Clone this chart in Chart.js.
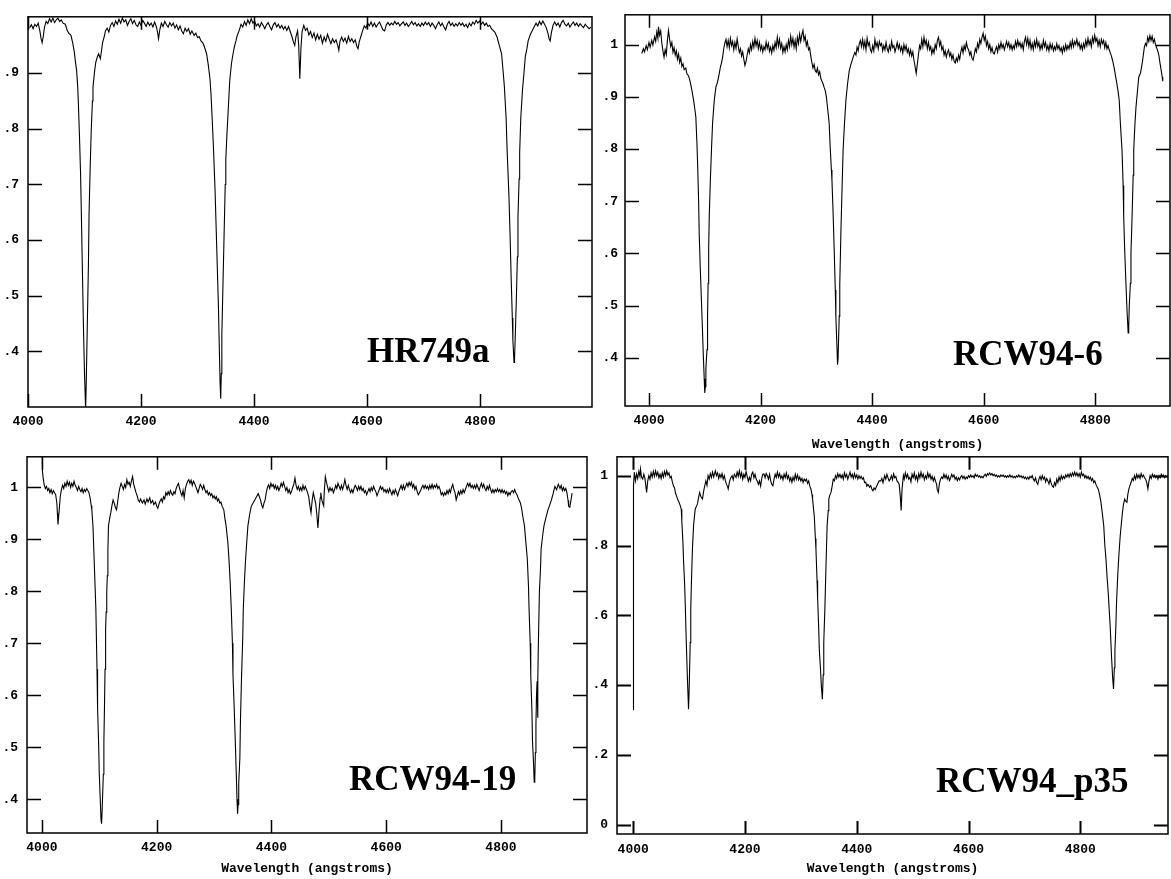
<!DOCTYPE html>
<html>
<head>
<meta charset="utf-8">
<script src="https://cdn.jsdelivr.net/npm/chart.js@4.4.1/dist/chart.umd.min.js"></script>
<style>
  body { margin: 0; background: #fff; }
  #wrap { position: relative; width: 1171px; height: 879px; overflow: hidden; background: #fff; }
  canvas { position: absolute; }
</style>
</head>
<body>
<div id="wrap">
  <canvas id="p1" width="597" height="440" style="left:0;top:0"></canvas>
  <canvas id="p2" width="574" height="455" style="left:597px;top:0"></canvas>
  <canvas id="p3" width="597" height="439" style="left:0;top:440px"></canvas>
  <canvas id="p4" width="581" height="439" style="left:590px;top:440px"></canvas>
</div>
<script>
// ---------- tick values ----------
const waveTicks = [4000, 4200, 4400, 4600, 4800];
const hrYTicks = [0.4, 0.5, 0.6, 0.7, 0.8, 0.9];
const rcw6YTicks = [0.4, 0.5, 0.6, 0.7, 0.8, 0.9, 1];
const rcw19YTicks = [0.4, 0.5, 0.6, 0.7, 0.8, 0.9, 1];
const p35YTicks = [0, 0.2, 0.4, 0.6, 0.8, 1];

const names = ["HR749a", "RCW94-6", "RCW94-19", "RCW94_p35"];
const xTitle = "Wavelength (angstroms)";

// ---------- spectra: [wavelength, normalised flux] ----------
const hr749a = [[4003,.982],[4006,.987],[4009,.980],[4012,.988],[4015,.984],[4018,.990],[4021,.976],[4023,.963],[4025,.955],[4027,.966],[4029,.982],[4032,.993],[4035,.989],[4038,.998],[4041,.992],[4044,.999],[4047,.991],[4050,.996],[4053,.999],[4056,.993],[4059,.996],[4062,.990],[4066,.988],[4069,.978],[4072,.972],[4076,.968],[4079,.955],[4082,.938],[4084,.920],[4086,.905],[4088,.875],[4089,.850],[4091,.790],[4093,.720],[4094,.670],[4096,.560],[4098,.450],[4100,.360],[4102,.295],[4103,.340],[4105,.450],[4107,.560],[4108,.645],[4110,.730],[4112,.800],[4114,.850],[4115,.875],[4118,.905],[4120,.920],[4123,.930],[4125,.935],[4128,.926],[4130,.940],[4132,.955],[4135,.966],[4137,.976],[4140,.981],[4143,.974],[4146,.986],[4149,.991],[4152,.984],[4155,.994],[4158,.988],[4161,.997],[4164,.990],[4167,.999],[4170,.992],[4173,.996],[4176,.986],[4179,.993],[4182,.998],[4185,.989],[4188,.995],[4191,.987],[4194,.984],[4197,.992],[4200,.986],[4203,.995],[4206,.990],[4209,.984],[4212,.992],[4215,.986],[4218,.990],[4221,.983],[4224,.992],[4227,.984],[4229,.975],[4231,.962],[4233,.977],[4236,.990],[4239,.984],[4242,.993],[4245,.987],[4248,.983],[4251,.991],[4254,.985],[4257,.990],[4260,.981],[4263,.987],[4266,.978],[4269,.985],[4272,.976],[4275,.971],[4278,.981],[4281,.975],[4284,.980],[4287,.970],[4290,.976],[4294,.968],[4297,.972],[4300,.964],[4303,.966],[4306,.958],[4309,.955],[4312,.948],[4316,.935],[4319,.915],[4322,.890],[4324,.860],[4326,.816],[4328,.770],[4331,.690],[4333,.620],[4335,.550],[4337,.480],[4338,.430],[4340,.340],[4341,.315],[4342,.360],[4343,.430],[4345,.520],[4347,.610],[4349,.700],[4350,.745],[4352,.790],[4354,.828],[4357,.887],[4360,.917],[4362,.930],[4365,.947],[4368,.958],[4370,.967],[4374,.978],[4377,.988],[4380,.983],[4383,.993],[4386,.986],[4389,.996],[4392,.989],[4395,.998],[4398,.990],[4401,.994],[4404,.985],[4407,.989],[4410,.983],[4413,.991],[4416,.986],[4419,.980],[4422,.987],[4425,.991],[4428,.984],[4431,.978],[4434,.987],[4437,.991],[4440,.983],[4443,.988],[4446,.981],[4449,.986],[4452,.979],[4455,.984],[4458,.977],[4461,.984],[4464,.975],[4467,.966],[4470,.955],[4472,.950],[4474,.965],[4477,.976],[4479,.950],[4481,.890],[4483,.945],[4485,.975],[4488,.986],[4491,.977],[4494,.981],[4497,.969],[4500,.975],[4503,.964],[4506,.972],[4509,.960],[4512,.970],[4515,.961],[4518,.968],[4521,.954],[4524,.965],[4527,.957],[4530,.970],[4533,.961],[4536,.953],[4539,.962],[4542,.955],[4545,.960],[4548,.950],[4550,.941],[4552,.957],[4555,.965],[4558,.957],[4561,.963],[4564,.954],[4567,.966],[4570,.957],[4573,.962],[4576,.955],[4579,.960],[4582,.948],[4584,.944],[4586,.956],[4589,.966],[4592,.976],[4595,.985],[4598,.981],[4601,.990],[4604,.985],[4607,.992],[4610,.984],[4613,.990],[4616,.983],[4619,.988],[4622,.992],[4625,.985],[4628,.978],[4631,.976],[4634,.987],[4637,.991],[4640,.986],[4643,.990],[4646,.987],[4649,.993],[4652,.988],[4655,.991],[4658,.985],[4661,.989],[4664,.992],[4667,.986],[4670,.990],[4673,.984],[4676,.988],[4679,.993],[4682,.987],[4685,.991],[4688,.985],[4691,.989],[4694,.984],[4697,.990],[4700,.986],[4703,.992],[4706,.987],[4709,.991],[4712,.984],[4715,.990],[4718,.986],[4721,.980],[4724,.987],[4727,.992],[4730,.985],[4733,.990],[4736,.983],[4739,.978],[4742,.988],[4745,.993],[4748,.986],[4751,.990],[4754,.984],[4757,.989],[4760,.985],[4763,.991],[4766,.986],[4769,.990],[4772,.984],[4775,.988],[4778,.982],[4781,.990],[4784,.985],[4787,.992],[4790,.988],[4793,.995],[4796,.990],[4799,.994],[4802,.988],[4805,.992],[4808,.986],[4811,.990],[4814,.984],[4817,.986],[4820,.980],[4823,.977],[4826,.974],[4830,.965],[4834,.950],[4838,.935],[4841,.900],[4843,.875],[4846,.820],[4848,.757],[4851,.680],[4853,.610],[4855,.530],[4857,.460],[4858,.420],[4860,.380],[4861,.390],[4862,.420],[4864,.490],[4866,.570],[4867,.640],[4869,.710],[4870,.757],[4872,.820],[4875,.870],[4878,.905],[4880,.930],[4883,.945],[4885,.958],[4889,.970],[4892,.976],[4896,.984],[4899,.990],[4902,.985],[4905,.993],[4908,.987],[4911,.994],[4914,.988],[4917,.982],[4920,.972],[4922,.962],[4924,.958],[4926,.972],[4929,.986],[4932,.992],[4935,.986],[4938,.990],[4941,.983],[4944,.991],[4947,.995],[4950,.988],[4953,.985],[4956,.990],[4959,.983],[4962,.988],[4965,.992],[4968,.986],[4971,.990],[4974,.984],[4977,.989],[4980,.985],[4983,.982],[4986,.988],[4989,.984],[4993,.980],[4996,.983]];

const rcw94_6 = [[3987,.983],[3990,.992],[3992,.986],[3995,.998],[3997,.990],[4000,1.004],[4002,.995],[4005,1.008],[4007,.999],[4010,1.015],[4012,1.006],[4014,1.024],[4016,1.012],[4017,1.034],[4019,1.018],[4021,1.026],[4023,1.003],[4025,.988],[4027,.976],[4029,.990],[4031,.981],[4033,1.008],[4035,1.027],[4037,1.010],[4039,.996],[4041,1.004],[4043,.985],[4045,.994],[4047,.980],[4049,.988],[4051,.972],[4053,.982],[4055,.966],[4057,.974],[4059,.958],[4061,.963],[4063,.952],[4066,.955],[4068,.944],[4071,.940],[4074,.928],[4077,.912],[4080,.893],[4082,.878],[4084,.861],[4086,.810],[4087,.778],[4089,.700],[4090,.639],[4092,.570],[4094,.511],[4096,.450],[4097,.416],[4099,.360],[4100,.333],[4101,.345],[4102,.380],[4104,.416],[4105,.480],[4106,.543],[4107,.610],[4108,.670],[4110,.740],[4112,.798],[4114,.850],[4117,.893],[4120,.919],[4122,.925],[4124,.934],[4126,.945],[4128,.957],[4130,.965],[4132,.976],[4134,.992],[4136,1.003],[4138,1.010],[4140,.996],[4142,1.008],[4144,.994],[4146,1.012],[4148,.998],[4150,1.006],[4152,.990],[4154,1.004],[4156,.993],[4158,1.011],[4160,.997],[4162,.985],[4164,.992],[4166,.978],[4168,.986],[4170,.972],[4172,.960],[4174,.968],[4176,.980],[4178,.992],[4180,.984],[4182,1.000],[4184,.990],[4186,1.006],[4188,.995],[4190,1.012],[4192,.998],[4194,1.008],[4196,.992],[4198,1.004],[4200,.990],[4202,.998],[4204,.986],[4206,.996],[4208,.990],[4210,1.005],[4212,.993],[4214,1.002],[4216,.987],[4218,.995],[4220,.984],[4222,.998],[4224,.989],[4226,1.004],[4228,.994],[4230,1.014],[4232,.997],[4234,1.010],[4236,.993],[4238,1.002],[4240,.985],[4242,.996],[4244,.986],[4246,1.000],[4248,.990],[4250,1.008],[4252,.996],[4254,1.016],[4256,1.000],[4258,1.012],[4260,.995],[4262,1.008],[4264,.992],[4266,1.014],[4268,1.002],[4270,1.020],[4272,1.006],[4274,1.018],[4276,1.027],[4278,1.008],[4280,1.016],[4282,.998],[4284,1.006],[4286,.990],[4288,.994],[4290,.978],[4292,.966],[4294,.955],[4296,.962],[4298,.950],[4300,.947],[4302,.955],[4304,.942],[4306,.948],[4308,.935],[4310,.930],[4312,.925],[4314,.918],[4316,.912],[4318,.900],[4320,.880],[4322,.860],[4323,.849],[4325,.800],[4327,.760],[4328,.740],[4330,.680],[4332,.607],[4334,.530],[4335,.480],[4337,.420],[4338,.387],[4339,.400],[4341,.480],[4342,.540],[4344,.639],[4346,.720],[4348,.798],[4350,.840],[4353,.893],[4356,.925],[4359,.950],[4362,.962],[4366,.976],[4369,.985],[4371,.980],[4373,.995],[4375,.988],[4377,1.002],[4379,1.008],[4381,.996],[4383,1.010],[4385,.994],[4387,1.006],[4389,.990],[4391,1.012],[4393,.998],[4395,1.004],[4397,.990],[4399,.985],[4401,.998],[4403,.988],[4405,1.010],[4407,.996],[4409,1.004],[4411,.992],[4413,1.006],[4415,.998],[4417,1.002],[4419,.988],[4421,.998],[4423,.990],[4425,1.004],[4427,.992],[4429,.986],[4431,.998],[4433,.990],[4435,1.006],[4437,.994],[4439,.998],[4441,.986],[4443,.994],[4445,1.004],[4447,.992],[4449,1.000],[4451,.988],[4453,.996],[4455,.984],[4457,1.000],[4459,.990],[4461,.998],[4463,.985],[4465,.992],[4467,.980],[4469,.990],[4471,.978],[4473,.986],[4475,.970],[4477,.958],[4479,.945],[4481,.962],[4483,.980],[4485,.998],[4487,.992],[4489,1.010],[4491,.996],[4493,1.014],[4495,1.000],[4497,1.008],[4499,.992],[4501,1.004],[4503,.990],[4505,.996],[4507,.982],[4509,.992],[4511,.984],[4513,1.000],[4515,.992],[4517,1.008],[4519,1.014],[4521,.998],[4523,1.006],[4525,.990],[4527,.996],[4529,.980],[4531,.988],[4533,.976],[4535,.985],[4537,.990],[4539,.978],[4541,.984],[4543,.972],[4545,.980],[4547,.968],[4549,.965],[4551,.974],[4553,.968],[4555,.980],[4557,.972],[4559,.986],[4561,.995],[4563,.984],[4565,.998],[4567,.990],[4569,1.004],[4571,.994],[4573,.990],[4575,.980],[4577,.986],[4579,.974],[4581,.970],[4583,.980],[4585,.992],[4587,.986],[4589,1.002],[4591,.994],[4593,1.010],[4595,1.002],[4597,1.014],[4599,1.022],[4601,1.008],[4603,1.016],[4605,.998],[4607,1.006],[4609,.992],[4611,1.000],[4613,.986],[4615,.994],[4617,.984],[4619,.982],[4621,.990],[4623,.996],[4625,.986],[4627,1.000],[4629,.992],[4631,1.004],[4633,.994],[4635,1.000],[4637,.990],[4639,.998],[4641,1.006],[4643,.996],[4645,1.004],[4647,.992],[4649,1.000],[4651,.990],[4653,.998],[4655,.992],[4657,1.006],[4659,.996],[4661,1.008],[4663,.998],[4665,1.004],[4667,.994],[4669,1.002],[4671,.990],[4673,1.006],[4675,1.014],[4677,1.000],[4679,1.012],[4681,.996],[4683,1.008],[4685,.992],[4687,1.002],[4689,.990],[4691,1.006],[4693,.996],[4695,1.010],[4697,.996],[4699,1.004],[4701,.990],[4703,1.000],[4705,.992],[4707,1.008],[4709,.996],[4711,1.004],[4713,.990],[4715,.998],[4717,.988],[4719,1.002],[4721,.992],[4723,1.000],[4725,.988],[4727,.996],[4729,.990],[4731,1.002],[4733,.992],[4735,.998],[4737,.988],[4739,.994],[4741,.984],[4743,.996],[4745,.988],[4747,1.000],[4749,.990],[4751,.998],[4753,.992],[4755,1.004],[4757,.994],[4759,1.008],[4761,.996],[4763,1.006],[4765,1.000],[4767,1.010],[4769,.998],[4771,1.004],[4773,.992],[4775,1.000],[4777,.990],[4779,1.002],[4781,.994],[4783,1.008],[4785,.998],[4787,1.012],[4789,1.000],[4791,1.008],[4793,.996],[4795,1.014],[4797,1.004],[4799,1.018],[4801,1.006],[4803,1.012],[4805,.998],[4807,1.008],[4809,.996],[4811,1.010],[4813,1.002],[4815,1.008],[4817,.994],[4819,1.004],[4821,.992],[4823,.998],[4825,.990],[4827,.984],[4829,.978],[4831,.970],[4834,.955],[4836,.942],[4838,.930],[4841,.910],[4843,.893],[4845,.850],[4847,.815],[4848,.798],[4850,.730],[4851,.670],[4853,.600],[4855,.543],[4857,.490],[4859,.448],[4860,.460],[4861,.500],[4863,.543],[4864,.600],[4866,.670],[4868,.750],[4869,.798],[4871,.845],[4873,.880],[4876,.915],[4878,.938],[4881,.945],[4883,.957],[4885,.970],[4888,.995],[4890,1.002],[4892,.998],[4894,1.014],[4896,1.006],[4898,1.017],[4900,1.008],[4902,1.016],[4904,1.004],[4906,1.010],[4908,1.000],[4910,.994],[4912,.988],[4914,.980],[4916,.965],[4918,.952],[4920,.938],[4921,.930]];

const rcw94_19 = [[4000,1.09],[4001,1.03],[4002,1.02],[4004,1.005],[4006,.998],[4008,1.002],[4010,.994],[4012,.998],[4014,.990],[4016,.996],[4018,.988],[4020,.994],[4022,.990],[4024,.986],[4026,.970],[4027,.950],[4028,.929],[4030,.955],[4032,.983],[4034,.996],[4036,1.004],[4038,.998],[4040,1.008],[4042,1.002],[4044,1.012],[4046,1.004],[4048,1.010],[4050,1.000],[4052,1.008],[4054,1.002],[4056,1.012],[4058,1.004],[4060,1.000],[4062,.994],[4064,1.002],[4066,.996],[4068,.992],[4070,.998],[4072,.990],[4074,.996],[4076,.992],[4078,.998],[4080,.994],[4082,.990],[4084,.980],[4086,.965],[4087,.957],[4089,.925],[4090,.894],[4092,.830],[4094,.767],[4096,.650],[4097,.576],[4099,.500],[4100,.448],[4102,.390],[4103,.360],[4104,.353],[4105,.380],[4107,.448],[4108,.510],[4109,.576],[4110,.650],[4111,.728],[4112,.760],[4113,.800],[4114,.830],[4115,.880],[4116,.926],[4118,.940],[4120,.951],[4122,.965],[4124,.976],[4126,.970],[4128,.962],[4130,.957],[4132,.972],[4134,.989],[4136,1.000],[4138,1.008],[4140,1.002],[4142,.996],[4144,1.006],[4146,1.000],[4148,1.015],[4150,1.006],[4152,1.010],[4154,1.002],[4156,1.012],[4158,1.021],[4160,1.006],[4162,.998],[4164,.990],[4166,.984],[4168,.976],[4170,.972],[4172,.978],[4175,.970],[4178,.976],[4180,.968],[4183,.978],[4185,.972],[4188,.980],[4190,.970],[4193,.975],[4195,.967],[4198,.972],[4200,.964],[4202,.960],[4204,.968],[4206,.974],[4208,.978],[4210,.972],[4212,.982],[4214,.978],[4216,.990],[4218,.985],[4220,.992],[4222,.986],[4224,.994],[4226,.988],[4228,.985],[4230,.992],[4232,.988],[4234,.998],[4236,1.004],[4238,1.008],[4240,.998],[4242,.990],[4244,.984],[4246,.994],[4248,.980],[4250,.998],[4252,1.006],[4254,1.012],[4256,1.015],[4258,1.008],[4260,1.014],[4262,1.004],[4264,1.012],[4266,1.008],[4268,1.002],[4270,.996],[4272,.990],[4274,.998],[4276,1.006],[4278,1.002],[4280,.996],[4282,1.004],[4284,.996],[4286,.990],[4288,.994],[4290,.986],[4292,.990],[4294,.984],[4296,.988],[4298,.980],[4300,.984],[4302,.978],[4304,.982],[4306,.974],[4308,.978],[4310,.970],[4312,.972],[4314,.964],[4317,.957],[4319,.940],[4321,.926],[4324,.895],[4326,.862],[4328,.820],[4330,.767],[4332,.700],[4333,.639],[4335,.580],[4337,.512],[4339,.440],[4340,.400],[4341,.372],[4342,.390],[4343,.430],[4345,.480],[4346,.550],[4348,.639],[4350,.710],[4351,.767],[4353,.820],[4355,.862],[4357,.895],[4359,.926],[4362,.948],[4365,.964],[4368,.970],[4371,.976],[4374,.982],[4377,.988],[4379,.982],[4381,.976],[4383,.966],[4385,.961],[4387,.970],[4389,.976],[4391,.990],[4393,1.000],[4395,1.005],[4397,.998],[4399,1.008],[4401,1.002],[4403,1.006],[4405,.998],[4407,1.004],[4409,.996],[4411,1.002],[4413,.994],[4415,1.000],[4417,1.008],[4419,1.002],[4421,1.010],[4423,1.002],[4425,.994],[4427,1.000],[4429,.990],[4431,.996],[4433,.988],[4435,.992],[4437,1.000],[4439,1.006],[4441,1.018],[4443,1.004],[4445,.996],[4447,1.002],[4449,.994],[4451,1.000],[4453,.994],[4455,1.004],[4457,.996],[4459,1.002],[4461,.996],[4463,.990],[4465,.982],[4467,.965],[4469,.951],[4471,.975],[4473,.990],[4475,.980],[4477,.970],[4479,.950],[4481,.922],[4483,.955],[4485,.980],[4486,.990],[4488,.975],[4490,.968],[4491,.965],[4492,.990],[4494,1.021],[4496,1.010],[4498,1.000],[4500,.992],[4502,1.000],[4504,.994],[4506,.998],[4508,.990],[4510,.996],[4512,1.004],[4514,.998],[4516,1.008],[4518,1.002],[4520,.996],[4522,1.004],[4524,.996],[4526,1.004],[4528,1.015],[4530,1.004],[4532,.996],[4534,1.004],[4536,.996],[4538,.990],[4540,.996],[4542,.990],[4544,.998],[4546,1.004],[4548,1.000],[4550,.994],[4552,1.002],[4554,.996],[4556,1.002],[4558,.994],[4560,.998],[4562,.990],[4564,.994],[4566,.986],[4568,.992],[4570,.998],[4572,.992],[4574,1.000],[4576,.994],[4578,1.002],[4580,.996],[4582,.992],[4584,.984],[4586,.990],[4588,.996],[4590,1.002],[4592,.996],[4594,1.000],[4596,.992],[4598,.996],[4600,.990],[4602,.996],[4604,.990],[4606,.998],[4608,.992],[4610,.986],[4612,.994],[4614,.988],[4616,.996],[4618,.990],[4620,.984],[4622,.992],[4624,.998],[4626,1.004],[4628,.996],[4630,1.004],[4632,.996],[4634,1.002],[4636,1.008],[4638,1.002],[4640,1.010],[4642,1.004],[4644,1.010],[4646,1.000],[4648,1.006],[4650,.996],[4652,1.002],[4654,.992],[4656,.986],[4658,.990],[4660,.994],[4662,1.000],[4664,1.004],[4666,.998],[4668,1.004],[4670,.998],[4672,1.002],[4674,.996],[4676,1.004],[4678,.998],[4680,1.006],[4682,.998],[4684,1.004],[4686,1.000],[4688,1.006],[4690,.998],[4692,1.002],[4694,.996],[4696,.986],[4698,.990],[4700,.984],[4702,.990],[4704,.986],[4706,.994],[4708,.988],[4710,.996],[4712,.990],[4714,1.000],[4716,1.006],[4718,.996],[4720,.990],[4722,.976],[4724,.984],[4726,.992],[4728,.986],[4730,.994],[4732,.988],[4734,.996],[4736,.990],[4738,.996],[4740,1.002],[4742,1.008],[4744,1.002],[4746,1.008],[4748,1.000],[4750,1.004],[4752,.998],[4754,1.004],[4756,.998],[4758,1.006],[4760,1.000],[4762,.994],[4764,1.002],[4766,1.008],[4768,1.000],[4770,1.006],[4772,.998],[4774,.994],[4776,1.002],[4778,.996],[4780,1.004],[4782,.996],[4784,.990],[4786,.996],[4788,.990],[4790,.996],[4792,.992],[4794,.998],[4796,.992],[4798,.996],[4800,.990],[4802,.996],[4804,.990],[4806,.994],[4808,.988],[4810,.992],[4812,.984],[4814,.990],[4816,.986],[4818,.992],[4820,.994],[4822,.990],[4824,.996],[4826,.990],[4828,.986],[4830,.980],[4832,.975],[4834,.970],[4836,.960],[4838,.945],[4841,.926],[4843,.900],[4846,.862],[4848,.810],[4849,.767],[4851,.700],[4852,.639],[4854,.570],[4855,.512],[4857,.465],[4858,.433],[4859,.440],[4860,.490],[4861,.544],[4862,.600],[4863,.627],[4864,.557],[4864.5,.630],[4865,.684],[4867,.798],[4869,.845],[4870,.881],[4873,.910],[4875,.926],[4878,.940],[4882,.957],[4885,.966],[4888,.976],[4891,.988],[4894,1.002],[4897,.996],[4900,1.006],[4903,.998],[4905,1.004],[4907,.994],[4909,1.000],[4911,.994],[4913,.998],[4915,.990],[4917,.975],[4918,.964],[4920,.962],[4922,.975],[4924,.989]];

const rcw94_p35 = [[4000,.330],[4000.5,.970],[4002,1.010],[4004,.985],[4006,1.005],[4008,.992],[4010,1.012],[4012,.998],[4013,1.019],[4015,.995],[4017,.990],[4019,1.004],[4021,.992],[4023,.965],[4024,.952],[4026,.985],[4028,1.000],[4030,.990],[4032,1.008],[4034,.996],[4036,1.012],[4038,.998],[4040,1.014],[4042,1.000],[4044,1.010],[4046,.994],[4048,1.004],[4050,.992],[4052,1.008],[4054,.996],[4056,1.012],[4058,1.000],[4060,1.014],[4062,1.002],[4064,1.008],[4066,.994],[4068,.998],[4070,.982],[4072,.971],[4074,.965],[4076,.948],[4078,.940],[4080,.930],[4082,.924],[4084,.915],[4086,.904],[4087,.870],[4089,.809],[4090,.760],[4092,.690],[4093,.640],[4095,.522],[4097,.420],[4099,.331],[4100,.380],[4102,.522],[4103,.620],[4104.5,.713],[4106,.790],[4108,.857],[4110,.890],[4111,.904],[4113,.912],[4115,.919],[4117,.938],[4119,.952],[4121,.940],[4124,.933],[4126,.955],[4128,.971],[4130,.985],[4132,.972],[4134,1.000],[4136,.990],[4138,1.006],[4140,.995],[4142,1.010],[4144,.996],[4147,1.014],[4149,1.000],[4151,1.008],[4153,.992],[4155,1.004],[4157,.995],[4159,1.006],[4161,.990],[4163,1.000],[4165,.985],[4167,.975],[4169,.968],[4170,.962],[4172,.980],[4174,.992],[4177,1.000],[4179,.988],[4181,1.004],[4184,.995],[4186,1.010],[4188,.998],[4190,1.014],[4192,.996],[4194,1.008],[4196,.990],[4198,1.004],[4200,.995],[4202,1.012],[4204,.998],[4206,.984],[4208,.995],[4210,.985],[4212,1.004],[4214,1.010],[4216,.994],[4218,1.004],[4220,.990],[4222,.985],[4224,.975],[4226,.985],[4228,.970],[4230,.992],[4232,1.004],[4234,1.005],[4236,.994],[4238,1.006],[4240,1.000],[4242,.990],[4244,1.004],[4246,.985],[4248,.975],[4250,.971],[4252,.990],[4254,1.004],[4256,.995],[4258,1.010],[4260,.996],[4262,1.006],[4264,.992],[4266,1.000],[4268,.988],[4270,1.004],[4272,.994],[4274,1.008],[4276,.992],[4278,1.000],[4280,.985],[4282,.994],[4284,.981],[4286,.996],[4288,.986],[4290,1.004],[4292,.990],[4294,1.002],[4296,.988],[4298,.996],[4300,.985],[4302,.992],[4304,.980],[4306,.990],[4308,.985],[4310,.990],[4312,.978],[4314,.985],[4316,.970],[4318,.962],[4320,.945],[4321,.933],[4323,.900],[4324,.885],[4326,.820],[4327,.790],[4329,.700],[4330,.650],[4332,.560],[4333,.503],[4335,.450],[4337,.390],[4338.5,.360],[4340,.430],[4341,.522],[4343,.620],[4344.5,.713],[4346,.800],[4347,.857],[4349,.900],[4350,.933],[4352,.945],[4354,.952],[4356,.970],[4358,.990],[4360,.985],[4362,1.000],[4364,.992],[4366,1.006],[4368,.996],[4370,1.004],[4372,.994],[4374,1.002],[4376,.990],[4378,1.008],[4380,.996],[4382,1.004],[4384,.990],[4386,1.000],[4388,1.010],[4390,.996],[4392,1.004],[4394,.992],[4396,1.006],[4398,.994],[4400,1.002],[4402,.990],[4404,1.000],[4406,.992],[4408,.998],[4410,.990],[4412,.994],[4414,.980],[4416,.981],[4418,.970],[4420,.975],[4423,.967],[4425,.972],[4427,.962],[4429,.957],[4431,.965],[4433,.960],[4436,.971],[4438,.978],[4440,.985],[4443,.985],[4445,.992],[4447,.980],[4450,1.000],[4452,.990],[4454,1.004],[4456,.994],[4458,.985],[4460,.990],[4462,1.000],[4464,.988],[4466,1.005],[4468,.994],[4470,.998],[4472,.985],[4474,.981],[4476,.975],[4478,.940],[4479.5,.900],[4481,.960],[4483.5,1.000],[4485,.990],[4487,1.008],[4489,.994],[4491,1.004],[4493,.990],[4495,.995],[4497,.982],[4499,1.004],[4501,.994],[4503,1.008],[4505,.990],[4507,1.000],[4509,.985],[4511,1.006],[4513,.994],[4515,1.010],[4517,.996],[4519,1.004],[4521,.988],[4523,1.000],[4525,.992],[4527,1.008],[4529,.995],[4531,1.004],[4533,.990],[4535,.998],[4537,.985],[4539,.995],[4541,.984],[4543,.975],[4544,.960],[4546,.952],[4548,.978],[4550,.990],[4552,.996],[4554,.992],[4556,1.004],[4558,.994],[4560,1.002],[4562,.990],[4564,.998],[4566,.986],[4568,.994],[4570,1.004],[4572,.996],[4574,1.002],[4576,.990],[4578,.996],[4580,.986],[4582,.994],[4584,.988],[4586,.996],[4588,1.000],[4590,.992],[4592,.998],[4594,.990],[4596,.996],[4598,.992],[4600,1.000],[4602,.995],[4604,1.002],[4606,.996],[4608,1.000],[4610,.994],[4612,1.004],[4614,.998],[4616,1.002],[4618,.996],[4620,1.000],[4622,.994],[4624,.998],[4626,.994],[4628,1.000],[4630,1.004],[4632,.998],[4634,1.006],[4636,1.002],[4638,1.008],[4640,1.002],[4642,1.006],[4644,1.000],[4646,1.004],[4648,.998],[4650,1.002],[4652,.996],[4654,1.000],[4656,.996],[4658,1.002],[4660,.998],[4662,1.002],[4664,.996],[4666,1.000],[4668,.995],[4670,1.000],[4672,.996],[4674,1.002],[4676,.996],[4678,1.000],[4680,.994],[4682,.998],[4684,.994],[4686,1.000],[4688,.996],[4690,1.002],[4692,.996],[4694,1.000],[4696,.994],[4698,.998],[4700,.992],[4702,.996],[4704,.990],[4706,.996],[4708,.990],[4710,.998],[4712,.994],[4714,1.000],[4716,.990],[4718,.985],[4720,.994],[4722,.980],[4724,.975],[4726,.990],[4728,.998],[4730,.988],[4732,1.000],[4734,.990],[4736,.996],[4738,.982],[4740,.992],[4742,.985],[4744,.976],[4746,.990],[4748,.978],[4750,.970],[4752,.967],[4754,.980],[4756,.972],[4758,.990],[4760,.980],[4762,.996],[4764,.986],[4766,1.000],[4768,.990],[4770,.998],[4772,.992],[4774,1.002],[4776,.996],[4778,1.004],[4780,.996],[4782,1.006],[4784,.998],[4786,1.008],[4788,1.000],[4790,1.010],[4792,1.000],[4794,1.008],[4796,.998],[4798,1.006],[4800,.996],[4802,1.010],[4804,1.000],[4806,1.004],[4808,.994],[4810,1.000],[4812,.992],[4814,.998],[4816,.990],[4818,.996],[4820,.986],[4822,.992],[4824,.980],[4826,.985],[4828,.975],[4830,.968],[4832,.962],[4834,.950],[4837,.924],[4840,.885],[4842,.857],[4844,.800],[4846,.761],[4848,.710],[4850,.666],[4852,.610],[4853.5,.570],[4856,.480],[4858,.420],[4859.5,.389],[4861,.450],[4862,.500],[4863.5,.560],[4865,.640],[4867,.713],[4869,.770],[4871.5,.828],[4874,.870],[4875.5,.895],[4877,.915],[4879.5,.933],[4881,.928],[4883.5,.924],[4885,.945],[4887,.962],[4889,.972],[4891,.981],[4893,.992],[4895,.986],[4897,1.000],[4899,.990],[4901,1.004],[4903,.994],[4905,1.002],[4907,.992],[4909,1.006],[4911,.996],[4913,1.002],[4915,.994],[4917,.990],[4919,.980],[4921,.962],[4923,.985],[4925,1.000],[4927,.992],[4929,1.004],[4931,.996],[4933,1.002],[4935,.994],[4937,1.000],[4939,.990],[4941,1.000],[4943,.994],[4945,1.004],[4947,.998],[4949,1.002],[4951,.994],[4953,1.000],[4955,.996]];

// ---------- frame + inward ticks + object name ----------
const framePlugin = {
  id: "frame",
  afterDraw(chart, args, o) {
    const { ctx, chartArea: a, scales: { x, y } } = chart;
    ctx.save();
    ctx.strokeStyle = "#000";
    ctx.lineWidth = 1.5;
    ctx.strokeRect(a.left, a.top, a.right - a.left, a.bottom - a.top);
    ctx.lineWidth = o.tickWidth;
    ctx.beginPath();
    x.ticks.forEach(t => {
      const px = Math.round(x.getPixelForValue(t.value)) + 0.5;
      ctx.moveTo(px, a.bottom); ctx.lineTo(px, a.bottom - 13);
      ctx.moveTo(px, a.top); ctx.lineTo(px, a.top + 13);
    });
    y.ticks.forEach(t => {
      const py = Math.round(y.getPixelForValue(t.value)) + 0.5;
      ctx.moveTo(a.left, py); ctx.lineTo(a.left + 14, py);
      ctx.moveTo(a.right, py); ctx.lineTo(a.right - 14, py);
    });
    ctx.stroke();
    ctx.fillStyle = "#000";
    ctx.font = 'bold 35px "Liberation Serif", "Times New Roman", serif';
    ctx.textBaseline = "alphabetic";
    ctx.fillText(o.name, o.nameX, o.nameY);
    ctx.restore();
  }
};

const tickFont = { family: '"Liberation Mono", "DejaVu Sans Mono", monospace', weight: "bold", size: 13 };

function yLabel(v) {
  if (v === 0) return "0";
  if (v === 1) return "1";
  return String(v).replace(/^0/, "");
}

function makePanel(id, spectrum, yTicks, p) {
  return new Chart(document.getElementById(id), {
    type: "line",
    data: {
      datasets: [{
        data: spectrum.map(d => ({ x: d[0], y: d[1] })),
        borderColor: "#000",
        borderWidth: 1.1,
        pointRadius: 0,
        tension: 0,
        fill: false
      }]
    },
    options: {
      responsive: false,
      animation: false,
      events: [],
      layout: { padding: { top: p.padTop, right: p.padRight, left: 0, bottom: 0 } },
      plugins: {
        legend: { display: false },
        tooltip: { enabled: false },
        frame: { name: p.name, nameX: p.nameX, nameY: p.nameY, tickWidth: p.tickWidth }
      },
      scales: {
        x: {
          type: "linear",
          min: p.xMin, max: p.xMax,
          afterBuildTicks: s => { s.ticks = waveTicks.map(v => ({ value: v })); },
          afterFit: s => { s.height = p.xHeight; },
          grid: { display: false, drawTicks: false },
          border: { display: false },
          ticks: { color: "#000", font: tickFont, padding: p.xPad, maxRotation: 0, autoSkip: false, callback: v => String(v) },
          title: {
            display: p.showTitle,
            text: xTitle,
            color: "#000",
            font: { family: tickFont.family, weight: "bold", size: 13 },
            padding: { top: 0, bottom: p.titlePad }
          }
        },
        y: {
          type: "linear",
          min: p.yMin, max: p.yMax,
          afterBuildTicks: s => { s.ticks = yTicks.map(v => ({ value: v })); },
          afterFit: s => { s.width = p.yWidth; },
          grid: { display: false, drawTicks: false },
          border: { display: false },
          ticks: { color: "#000", font: tickFont, padding: p.yPad, callback: yLabel }
        }
      }
    },
    plugins: [framePlugin]
  });
}

makePanel("p1", hr749a, hrYTicks, {
  name: names[0], nameX: 367, nameY: 362,
  xMin: 4000, xMax: 4998, yMin: 0.300, yMax: 1.0014,
  padTop: 13, padRight: 5, yWidth: 28, xHeight: 33, xPad: 7, yPad: 9,
  showTitle: false, titlePad: 0, tickWidth: 1.5
});

makePanel("p2", rcw94_6, rcw6YTicks, {
  name: names[1], nameX: 356, nameY: 365,
  xMin: 3957, xMax: 4934, yMin: 0.308, yMax: 1.057,
  padTop: 14, padRight: 1, yWidth: 28, xHeight: 49, xPad: 7, yPad: 7,
  showTitle: true, titlePad: 2, tickWidth: 1.5
});

makePanel("p3", rcw94_19, rcw19YTicks, {
  name: names[2], nameX: 349, nameY: 350,
  xMin: 3974, xMax: 4950, yMin: 0.335, yMax: 1.059,
  padTop: 13, padRight: 10, yWidth: 27, xHeight: 46, xPad: 7, yPad: 9,
  showTitle: true, titlePad: 2, tickWidth: 1.5
});

makePanel("p4", rcw94_p35, p35YTicks, {
  name: names[3], nameX: 346, nameY: 352,
  xMin: 3971, xMax: 4957, yMin: -0.026, yMax: 1.054,
  padTop: 14, padRight: 3, yWidth: 27, xHeight: 45, xPad: 8, yPad: 9,
  showTitle: true, titlePad: 2, tickWidth: 2
});
</script>
</body>
</html>
